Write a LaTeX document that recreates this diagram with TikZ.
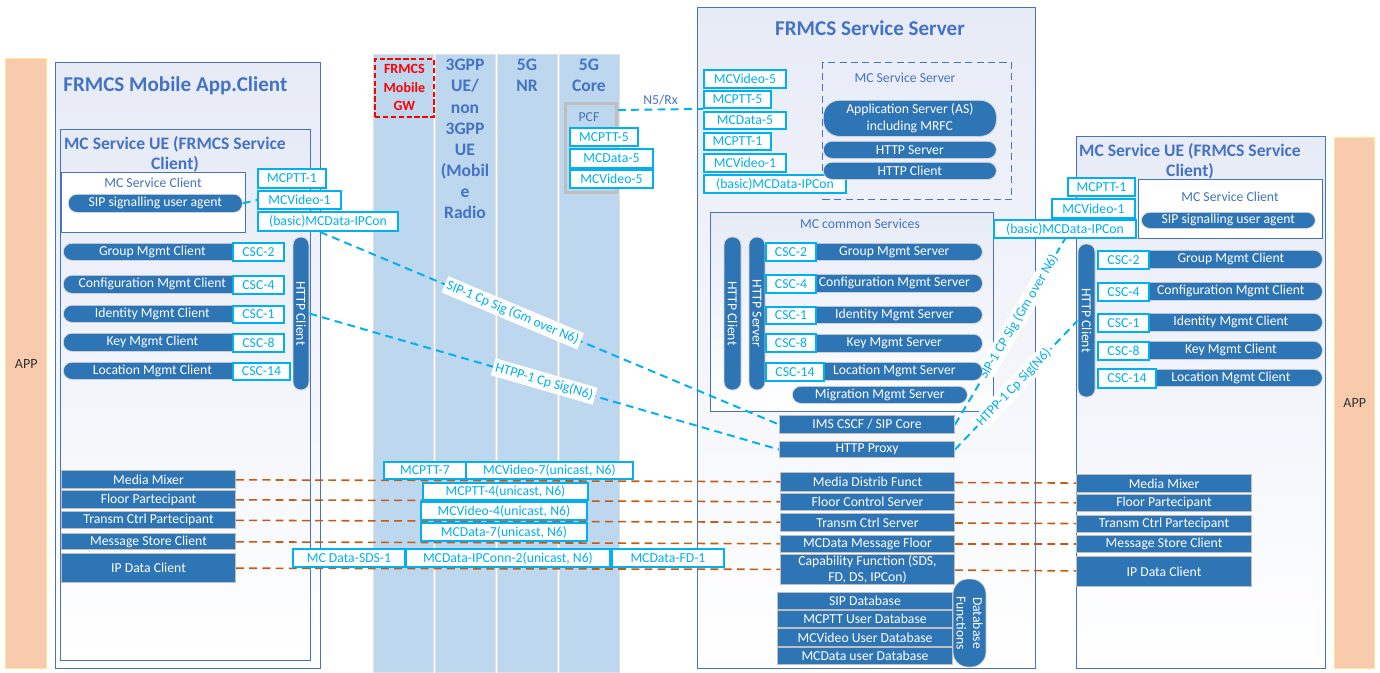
\documentclass[tikz,border=0pt]{standalone}
\usepackage{fontspec}
\setmainfont{Carlito}
\usetikzlibrary{calc}
\definecolor{B1}{RGB}{46,117,182}
\definecolor{B2}{RGB}{68,114,196}
\definecolor{CY}{RGB}{0,176,240}
\definecolor{OR}{RGB}{197,90,17}
\definecolor{CB}{RGB}{189,215,238}
\definecolor{AP}{RGB}{248,203,173}
\definecolor{AY}{RGB}{255,230,153}
\definecolor{BG}{RGB}{231,235,246}
\pgfdeclarelayer{back}
\pgfdeclarelayer{wires}
\pgfsetlayers{back,wires,main}
\tikzset{
  every node/.style={font=\fontsize{7.8}{9.4}\selectfont, inner sep=0pt},
  wh/.style 2 args={minimum width=#1*0.02cm, minimum height=#2*0.02cm},
  tl/.style={anchor=north west},
  pill/.style={tl, fill=B1, draw=black!15, rounded corners=0.17cm, text=white},
  vpill/.style={fill=B1, draw=black!15, rounded corners=0.16cm, text=white, rotate=-90},
  blk/.style={tl, fill=B1, draw=black!25, line width=0.6pt, text=white},
  ref/.style={tl, fill=white, draw=CY, line width=1.1pt, text=CY},
  cont/.style={tl, draw=B2, line width=0.8pt, top color=BG, bottom color=white},
  band/.style={tl, fill=CB, draw=black!12, line width=0.8pt},
  app/.style={tl, fill=AP, draw=AY, line width=0.8pt, text=black!80, font=\fontsize{8}{9}\selectfont},
  sig/.style={draw=CY, line width=1.1pt, dash pattern=on 4.5pt off 3pt},
  med/.style={draw=OR, line width=0.9pt, dash pattern=on 4.5pt off 3pt},
  ttl/.style={font=\fontsize{12}{14}\selectfont\bfseries, text=B2},
  hdr/.style={font=\fontsize{10}{11.4}\selectfont\bfseries, text=B2, align=center, anchor=north},
  colh/.style={font=\fontsize{10}{12}\selectfont\bfseries, text=B2, align=center, anchor=north},
  lbl/.style={text=B2},
  lab/.style={sloped, fill=white, text=CY, inner sep=1.5pt}
}
\begin{document}
\begin{tikzpicture}[x=0.02cm,y=-0.02cm]
\useasboundingbox (0,0) rectangle (1380,673);
\begin{pgfonlayer}{back}
\node[app, wh={41}{610}] (appL) at (5,58) {APP};
\node[app, wh={40}{531}] (appR) at (1334,137) {APP};
\node[cont, wh={265}{606}] (mob) at (55,62) {};
\node[cont, wh={250}{531}] (ueL) at (60,129) {};
\node[tl, draw=B2, fill=white, line width=0.8pt, wh={184}{60}] (mcsL) at (61,172) {};
\node[cont, wh={338}{661}] (srv) at (697,7) {};
\node[tl, draw=B2, line width=0.8pt, dash pattern=on 4pt off 2.5pt, wh={189}{137}] (mcss) at (822,62) {};
\node[cont, wh={283}{199}] (mccs) at (710,212) {};
\node[cont, wh={249}{532}] (ueR) at (1076,136) {};
\node[tl, draw=B2, fill=white, line width=0.8pt, wh={184}{59}] (mcsR) at (1138,179) {};
\node[band, wh={60}{618}] (gw) at (373,54) {};
\node[band, wh={60}{618}] (ue) at (435,54) {};
\node[band, wh={60}{618}] (nr) at (497,54) {};
\node[band, wh={60}{618}] (core) at (559,54) {};
\end{pgfonlayer}

\node[ttl, anchor=base west] (tMob) at (63,91) {FRMCS Mobile App.Client};
\node[ttl, anchor=base] (tSrv) at (870,35) {FRMCS Service Server};
\node[hdr] (tUeL) at (175,136) {MC Service UE (FRMCS Service\\Client)};
\node[hdr] (tUeR) at (1190,143) {MC Service UE (FRMCS Service\\Client)};
\node[lbl] (tMcsL) at (153,183) {MC Service Client};
\node[lbl] (tMcsR) at (1230,197) {MC Service Client};
\node[lbl] (tMcss) at (905,78) {MC Service Server};
\node[lbl] (tMccs) at (860,224) {MC common Services};

\node[tl, draw=red, line width=1pt, dash pattern=on 3pt off 1.5pt, text=red, align=center, font=\fontsize{8}{10.5}\selectfont\bfseries, wh={59}{58}] (gwbox) at (374,58) {FRMCS\\Mobile\\GW};
\node[colh] (tUe) at (465,59) {3GPP\\UE/\\non\\3GPP\\UE\\(Mobil\\e\\Radio};
\node[colh] (tNr) at (527,59) {5G\\NR};
\node[colh] (tCore) at (589,59) {5G\\Core};
\node[tl, fill=CB, draw=black!25, line width=1.7pt, wh={51}{89}] (pcf) at (564,102) {};
\node[lbl] (tPcf) at (589,117) {PCF};
\node[ref, wh={68}{18}] (pt5C) at (569,127) {MCPTT-5};
\node[ref, wh={83}{19}] (dt5C) at (569,148) {MCData-5};
\node[ref, wh={83}{18}] (vd5C) at (569,169) {MCVideo-5};

\node[pill, wh={174}{18}] (sipL) at (68,194) {SIP signalling user agent};
\node[ref, wh={68}{19}] (pt1L) at (257,168) {MCPTT-1};
\node[ref, wh={83}{18}] (vd1L) at (257,190) {MCVideo-1};
\node[ref, wh={140}{19}] (ipcL) at (257,211) {(basic)MCData-IPCon};
\node[pill, wh={178}{17}] (grpL) at (63,243) {Group Mgmt Client};
\node[ref, wh={51}{18}] (c2L) at (232,242) {CSC-2};
\node[pill, wh={178}{18}] (cfgL) at (63,275) {Configuration Mgmt Client};
\node[ref, wh={51}{18}] (c4L) at (232,275) {CSC-4};
\node[pill, wh={178}{17}] (idL) at (63,305) {Identity Mgmt Client};
\node[ref, wh={51}{17}] (c1L) at (232,305) {CSC-1};
\node[pill, wh={178}{18}] (keyL) at (63,333) {Key Mgmt Client};
\node[ref, wh={51}{18}] (c8L) at (232,333) {CSC-8};
\node[pill, wh={178}{17}] (locL) at (63,362) {Location Mgmt Client};
\node[ref, wh={57}{17}] (c14L) at (232,362) {CSC-14};
\node[vpill, wh={153}{16}] (httpL) at (301,313.5) {HTTP Client};
\node[blk, wh={174}{18}] (mmL) at (61,470) {Media Mixer};
\node[blk, wh={174}{18}] (fpL) at (61,490) {Floor Partecipant};
\node[blk, wh={174}{17}] (tcL) at (61,511) {Transm Ctrl Partecipant};
\node[blk, wh={174}{16}] (msL) at (61,533) {Message Store Client};
\node[blk, wh={174}{29}] (ipdL) at (61,553) {IP Data Client};

\node[ref, wh={82}{18}] (vd5S) at (703,69) {MCVideo-5};
\node[ref, wh={67}{17}] (pt5S) at (703,90) {MCPTT-5};
\node[ref, wh={82}{17}] (dt5S) at (703,111) {MCData-5};
\node[ref, wh={67}{17}] (pt1S) at (703,132) {MCPTT-1};
\node[ref, wh={82}{18}] (vd1S) at (703,153) {MCVideo-1};
\node[ref, wh={142}{18}] (ipcS) at (703,174) {(basic)MCData-IPCon};
\node[pill, wh={173}{36}, rounded corners=0.32cm, align=center] (as) at (823,100) {Application Server (AS)\\including MRFC};
\node[pill, wh={173}{17}] (hsrv) at (823,141) {HTTP Server};
\node[pill, wh={173}{17}] (hcli) at (823,162) {HTTP Client};
\node[vpill, wh={153}{17}] (hcS) at (732.5,313.5) {HTTP Client};
\node[vpill, wh={153}{16}] (hsS) at (757,313.5) {HTTP Server};
\node[pill, wh={176}{17}] (grpS) at (806,243) {Group Mgmt Server};
\node[ref, wh={50}{18}] (c2S) at (765,242) {CSC-2};
\node[pill, wh={176}{18}] (cfgS) at (806,274) {Configuration Mgmt Server};
\node[ref, wh={50}{18}] (c4S) at (765,274) {CSC-4};
\node[pill, wh={176}{17}] (idS) at (806,306) {Identity Mgmt Server};
\node[ref, wh={50}{17}] (c1S) at (765,306) {CSC-1};
\node[pill, wh={176}{18}] (keyS) at (806,334) {Key Mgmt Server};
\node[ref, wh={50}{18}] (c8S) at (765,333) {CSC-8};
\node[pill, wh={176}{18}] (locS) at (806,362) {Location Mgmt Server};
\node[ref, wh={58}{18}] (c14S) at (765,362) {CSC-14};
\node[pill, wh={175}{17}] (migS) at (792,386) {Migration Mgmt Server};
\node[blk, wh={175}{18}] (ims) at (779,415) {IMS CSCF / SIP Core};
\node[blk, wh={175}{16}] (proxy) at (779,441) {HTTP Proxy};
\node[blk, wh={174}{19}] (mdf) at (780,472) {Media Distrib Funct};
\node[blk, wh={174}{17}] (fcs) at (780,493) {Floor Control Server};
\node[blk, wh={174}{18}] (tcs) at (780,513) {Transm Ctrl Server};
\node[blk, wh={174}{17}] (mmf) at (780,535) {MCData Message Floor};
\node[blk, wh={174}{30}, align=center] (cap) at (780,554) {Capability Function (SDS,\\FD, DS, IPCon)};
\node[blk, wh={175}{17}] (sipdb) at (777,592) {SIP Database};
\node[blk, wh={175}{17}] (pttdb) at (777,610) {MCPTT User Database};
\node[blk, wh={175}{18}] (viddb) at (777,628) {MCVideo User Database};
\node[blk, wh={175}{17}] (datdb) at (777,647) {MCData user Database};
\node[vpill, wh={88}{33}, rounded corners=0.3cm, align=center] (dbf) at (969.5,623) {Database\\Functions};

\node[pill, wh={174}{16}] (sipR) at (1141,212) {SIP signalling user agent};
\node[ref, wh={67}{18}] (pt1R) at (1067,177) {MCPTT-1};
\node[ref, wh={83}{19}] (vd1R) at (1051,198) {MCVideo-1};
\node[ref, wh={142}{18}] (ipcR) at (993,219) {(basic)MCData-IPCon};
\node[vpill, wh={153}{17}] (httpR) at (1086.5,320.5) {HTTP Client};
\node[pill, wh={183}{18}] (grpR) at (1139,250) {Group Mgmt Client};
\node[ref, wh={51}{18}] (c2R) at (1097,250) {CSC-2};
\node[pill, wh={183}{18}] (cfgR) at (1139,282) {Configuration Mgmt Client};
\node[ref, wh={51}{18}] (c4R) at (1097,282) {CSC-4};
\node[pill, wh={183}{18}] (idR) at (1139,313) {Identity Mgmt Client};
\node[ref, wh={51}{18}] (c1R) at (1097,313) {CSC-1};
\node[pill, wh={183}{18}] (keyR) at (1139,341) {Key Mgmt Client};
\node[ref, wh={51}{18}] (c8R) at (1097,341) {CSC-8};
\node[pill, wh={183}{17}] (locR) at (1139,369) {Location Mgmt Client};
\node[ref, wh={58}{19}] (c14R) at (1097,368) {CSC-14};
\node[blk, wh={175}{18}] (mmR) at (1076,474) {Media Mixer};
\node[blk, wh={175}{17}] (fpR) at (1076,494) {Floor Partecipant};
\node[blk, wh={175}{17}] (tcR) at (1076,515) {Transm Ctrl Partecipant};
\node[blk, wh={175}{17}] (msR) at (1076,535) {Message Store Client};
\node[blk, wh={175}{30}] (ipdR) at (1076,556) {IP Data Client};

\node[ref, wh={82}{17}] (pt7) at (383,461) {MCPTT-7};
\node[ref, wh={167}{17}] (vd7) at (465,461) {MCVideo-7(unicast, N6)};
\node[ref, wh={165}{17}] (pt4) at (422,482) {MCPTT-4(unicast, N6)};
\node[ref, wh={166}{18}] (vd4) at (420,501) {MCVideo-4(unicast, N6)};
\node[ref, wh={166}{18}] (dt7) at (420,522) {MCData-7(unicast, N6)};
\node[ref, wh={112}{18}] (sds1) at (292,548) {MC Data-SDS-1};
\node[ref, wh={204}{18}] (ipc2) at (405,548) {MCData-IPConn-2(unicast, N6)};
\node[ref, wh={112}{18}] (fd1) at (611,548) {MCData-FD-1};

\begin{pgfonlayer}{wires}
\draw[med] (mmL) -- (mdf) (mdf) -- (mmR);
\draw[med] (fpL) -- (fcs) (fcs) -- (fpR);
\draw[med] (tcL) -- (tcs) (tcs) -- (tcR);
\draw[med] (msL) -- (mmf) (mmf) -- (msR);
\draw[med] (ipdL) -- (cap) (cap) -- (ipdR);
\draw[sig] (sipL.east) -- (vd1L.west);
\draw[sig] ($(pcf.north east)+(0,8)$) -- node[above=2pt, text=B2] {N5/Rx} (pt5S.south west);
\draw[sig] ($(ipcL.south)+(-8,0)$) -- node[lab, pos=0.42] {SIP-1 Cp Sig (Gm over N6)} (ims.west);
\draw[sig] (httpL.north) -- node[lab, pos=0.5] {HTPP-1 Cp Sig(N6)} (proxy.west);
\draw[sig] (ims.east) -- node[lab, pos=0.58] {SIP-1 CP Sig (Gm over N6)} (ipcR.south);
\draw[sig] (proxy.east) -- node[lab, pos=0.48] {HTPP-1 Cp Sig(N6)} (httpR.south);
\end{pgfonlayer}
\end{tikzpicture}
\end{document}
